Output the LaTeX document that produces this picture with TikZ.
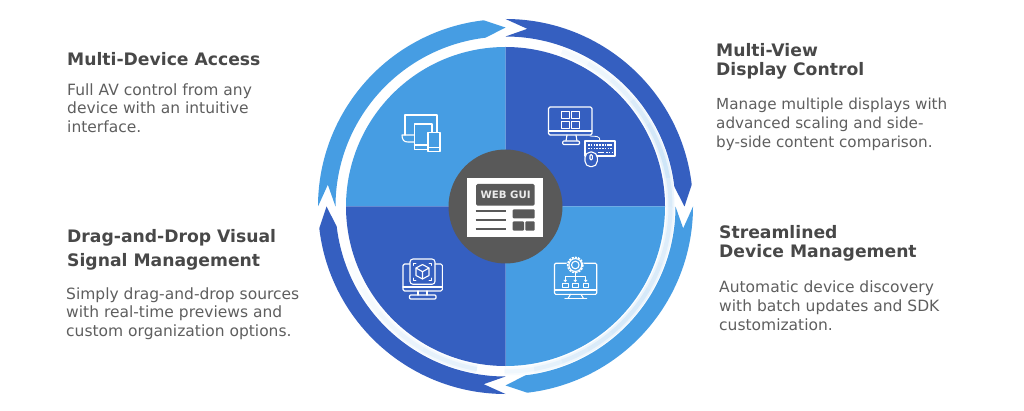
\documentclass[tikz,border=0pt]{standalone}
\usepackage{fontspec}
\setmainfont{DejaVu Sans}
\definecolor{lightb}{HTML}{469DE3}
\definecolor{darkb}{HTML}{355FC0}
\definecolor{hubgray}{HTML}{595959}
\definecolor{headc}{HTML}{484848}
\definecolor{bodyc}{HTML}{5E5E5E}
\newcommand{\bandarrow}[2]{%
  \fill[#2] (#1:187.5) arc[start angle=#1,end angle=#1-83.3,radius=187.5]
    -- (#1-90:179) -- (#1-83.3:170) arc[start angle=#1-83.3,end angle=#1,radius=170]
    -- (#1-7:179) -- cycle;}
\newcommand{\quadrant}[2]{%
  \fill[#2] (0,0) -- (#1:159.5) arc[start angle=#1,end angle=#1-90,radius=159.5] -- cycle;}
\tikzset{
  headtxt/.style={anchor=base west,inner sep=0pt,font=\fontsize{17.2}{17.2}\selectfont\bfseries,text=headc},
  bodytxt/.style={anchor=base west,inner sep=0pt,font=\fontsize{15.5}{15.5}\selectfont,text=bodyc},
  bodytxtb/.style={anchor=base west,inner sep=0pt,font=\fontsize{15.2}{15.2}\selectfont,text=bodyc},
  ico/.style={draw=white,line width=1.1pt,line join=round,line cap=round},
  icothin/.style={draw=white,line width=0.8pt,line join=round,line cap=round},
  keyrow/.style={line width=1.4pt,white,dash pattern=on 1.6pt off 1.2pt},
  keybar/.style={line width=1.4pt,white},
}
\begin{document}
\begin{tikzpicture}[x=1pt,y=-1pt]
\useasboundingbox (0,0) rectangle (1024,411);
\begin{scope}[shift={(505.5,206.5)},x=1pt,y=1pt]
\quadrant{180}{lightb}
\quadrant{90}{darkb}
\quadrant{0}{lightb}
\quadrant{270}{darkb}
\foreach \a/\t in {70/3,60/5,50/7,40/10,30/12,20/13,10/10,0/9,-10/9,-20/10,-30/11,-40/11,-50/10,-60/9,-70/7,-80/4,
  260/7,250/7,240/6,230/4,220/3,210/2}{
  \draw[line width=8pt,color=lightb!\t!white] (\a:165) arc[start angle=\a,end angle=\a-10.3,radius=165];
}
\foreach \a/\t in {70/6,60/10,50/14,40/20,30/24,20/26,10/20,0/18,-10/18,-20/20,-30/22,-40/22,-50/20,-60/18,-70/14,-80/8,
  260/14,250/14,240/12,230/9,220/6,210/3}{
  \draw[line width=4pt,color=lightb!\t!white] (\a:165) arc[start angle=\a,end angle=\a-10.3,radius=165];
}
\bandarrow{180}{lightb}
\bandarrow{90}{darkb}
\bandarrow{0}{lightb}
\bandarrow{270}{darkb}
\node[circle,fill=hubgray,minimum size=114pt,inner sep=0pt] (hub) at (0,0) {};
\end{scope}
% hub icon
\fill[white] (466.7,178) rectangle (542.7,237);
\fill[hubgray,rounded corners=1.5pt] (476,184) rectangle (534.7,205.7);
\node[text=white!92!black,inner sep=0pt,font=\fontsize{10.2}{10.2}\selectfont\bfseries] (webgui) at (505.6,195) {WEB GUI};
\foreach \y in {210.7,220,229.3}{\draw[hubgray,line width=1.8pt] (475.7,\y) -- (506,\y);}
\fill[hubgray,rounded corners=1pt] (512.7,209.3) rectangle (534.7,218.3);
\fill[hubgray,rounded corners=1pt] (512.7,221.3) rectangle (524,230.7);
\fill[hubgray,rounded corners=1pt] (525.4,221.3) rectangle (534.7,230.7);
% icon: devices
\draw[ico] (405,135) -- (405,115) -- (437,115) -- (437,132);
\draw[ico] (414,135) -- (402,135) .. controls (402,140) and (404,142) .. (408,142) -- (414,142);
\draw[ico,fill=lightb] (414.3,124) rectangle (432,149.7);
\draw[ico] (414.3,145) -- (427,145);
\draw[ico,fill=lightb] (428,132.7) rectangle (440,151.7);
\draw[ico] (428,147.5) -- (440,147.5);
% icon: monitor and keyboard
\draw[ico,rounded corners=1.5pt] (548.5,107) rectangle (592,135);
\draw[ico] (548.5,131) -- (592,131);
\draw[ico] (567,135) -- (566,141) (576,135) -- (577,141);
\draw[ico,rounded corners=1pt] (562.7,141) rectangle (579.5,144.5);
\foreach \xa/\ya in {561.7/111.7,571.7/111.7,561.7/121.7,571.7/121.7}{
  \draw[ico] (\xa,\ya) rectangle ({\xa+7.6},{\ya+6.8});}
\draw[icothin] (590,136) -- (597,136.5) .. controls (599,137) and (600,138) .. (600,141);
\draw[ico] (585,141) rectangle (615,156);
\draw[keyrow] (588,145) -- (606,145);
\draw[keybar] (606.5,145) -- (612,145);
\draw[keyrow] (588,148.7) -- (612,148.7);
\draw[keybar] (597.5,152.3) -- (604,152.3);
\draw[keyrow] (606,152.3) -- (612,152.3);
\draw[ico,fill=darkb,rounded corners=5.5pt] (585,152) rectangle (597.3,166.7);
\draw[ico,fill=darkb,rounded corners=1.2pt] (590,154.5) rectangle (592.4,160);
% icon: cube
\draw[ico,rounded corners=1.5pt] (403,264) rectangle (442.3,291);
\draw[ico] (403,287) -- (442.3,287);
\draw[ico] (418,291) -- (418,295) (427,291) -- (427,295);
\draw[ico,rounded corners=1pt] (409.5,295) rectangle (436,299);
\draw[ico,fill=darkb,rounded corners=3pt] (410,259) rectangle (435,284.3);
\draw[icothin] (416,263) -- (413.5,263) -- (413.5,265.5)
  (429,263) -- (431.5,263) -- (431.5,265.5)
  (416,280.5) -- (413.5,280.5) -- (413.5,278)
  (429,280.5) -- (431.5,280.5) -- (431.5,278);
\draw[ico] (422.5,264.5) -- (429,268) -- (429,275.5) -- (422.5,279) -- (416,275.5) -- (416,268) -- cycle;
\draw[ico] (416,268) -- (422.5,271.7) -- (429,268) (422.5,271.7) -- (422.5,279);
% icon: gear and tree
\draw[ico,rounded corners=1.2pt] (554.5,263.3) rectangle (596.7,294.3);
\draw[ico] (554.5,290) -- (596.7,290);
\draw[ico] (570.5,294.3) -- (568,298.5) (581,294.3) -- (583.5,298.5);
\draw[ico] (565,298.8) -- (586.7,298.8);
\fill[lightb] (575.3,265) circle[radius=9];
\draw[white,line width=1.6pt,dash pattern=on 2.1pt off 1.1pt] (575.3,265) circle[radius=7.6];
\draw[ico] (575.3,265) circle[radius=6.4];
\draw[ico] (575.3,265) circle[radius=3.8];
\draw[icothin] (575.3,271.5) -- (575.3,281.5);
\draw[icothin] (565.3,281.5) -- (565.3,276) -- (585.7,276) -- (585.7,281.5);
\foreach \xc in {565.3,575.3,585.7}{
  \fill[white] (\xc-2,279.8) -- (\xc+2,279.8) -- (\xc,282.3) -- cycle;
  \draw[icothin] (\xc-2.8,283.3) rectangle (\xc+2.8,287.6);}
% texts
\node[headtxt] (h1) at (67,65.7) {Multi-Device Access};
\node[bodytxt] (b1a) at (67,95.7) {Full AV control from any};
\node[bodytxt] (b1b) at (67,114) {device with an intuitive};
\node[bodytxt] (b1c) at (67,132.3) {interface.};
\node[headtxt] (h2a) at (716,56.7) {Multi-View};
\node[headtxt] (h2b) at (716,76) {Display Control};
\node[bodytxtb] (b2a) at (716,110) {Manage multiple displays with};
\node[bodytxtb] (b2b) at (716,128.3) {advanced scaling and side-};
\node[bodytxtb] (b2c) at (716,147.3) {by-side content comparison.};
\node[headtxt] (h3a) at (719,238.5) {Streamlined};
\node[headtxt] (h3b) at (719,257.5) {Device Management};
\node[bodytxt] (b3a) at (719,293) {Automatic device discovery};
\node[bodytxt] (b3b) at (719,311.5) {with batch updates and SDK};
\node[bodytxt] (b3c) at (719,330) {customization.};
\node[headtxt] (h4a) at (67,242.5) {Drag-and-Drop Visual};
\node[headtxt] (h4b) at (67,266.5) {Signal Management};
\node[bodytxt] (b4a) at (66,299) {Simply drag-and-drop sources};
\node[bodytxt] (b4b) at (66,317.5) {with real-time previews and};
\node[bodytxt] (b4c) at (66,336) {custom organization options.};
\end{tikzpicture}
\end{document}
